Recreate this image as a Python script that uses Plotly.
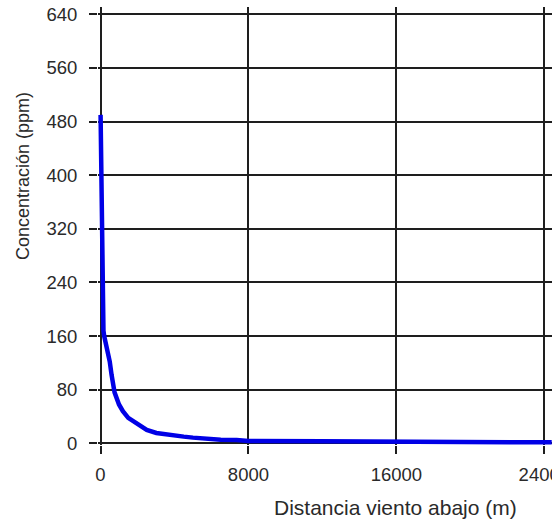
import plotly.graph_objects as go

# Data
distance_m = [5, 30, 50, 70, 90, 110, 130, 160, 200, 300, 400, 500, 600, 760, 1000,
              1210, 1500, 1930, 2500, 3020, 3760, 4500, 5000, 5740, 6500, 7360, 8000,
              12000, 16000, 20000, 24400]
concentration_ppm = [490, 430, 365, 300, 245, 205, 180, 168, 160, 148, 135, 122, 102, 76, 58,
                     48, 38, 30, 20, 15.5, 12, 10, 8.5, 6.5, 5.5, 5, 3.5,
                     3, 2.5, 2, 1.5]
x_ticks = [0, 8000, 16000, 24000]
y_ticks = [0, 80, 160, 240, 320, 400, 480, 560, 640]
x_title = "Distancia viento abajo (m)"
y_title = "Concentración (ppm)"

FONT = "Liberation Sans, Arial, sans-serif"
TXT = "#2a2a2a"
GRID = "#1e1e1e"

fig = go.Figure()
fig.add_trace(go.Scatter(
    x=distance_m, y=concentration_ppm, mode="lines",
    line=dict(color="#0000e6", width=4.5),
    showlegend=False, hoverinfo="skip",
))

fig.update_layout(
    width=552, height=523,
    margin=dict(l=98, r=0, t=7, b=78),
    paper_bgcolor="white", plot_bgcolor="white",
    font=dict(family=FONT, color=TXT, size=18.5),
    xaxis=dict(
        range=[-135, 24416], tickmode="array", tickvals=x_ticks,
        ticktext=[str(v) for v in x_ticks],
        showgrid=True, gridcolor=GRID, gridwidth=2,
        zeroline=False, showline=False,
        ticks="outside", ticklen=8, tickwidth=2, tickcolor=GRID,
        tickfont=dict(size=18.5, family=FONT, color=TXT),
        ticklabelstandoff=5, ticklabeloverflow="allow", automargin=False,
    ),
    yaxis=dict(
        range=[-2.5, 650.9], tickmode="array", tickvals=y_ticks,
        ticktext=[str(v) for v in y_ticks],
        showgrid=True, gridcolor=GRID, gridwidth=2,
        zeroline=True, zerolinecolor=GRID, zerolinewidth=2,
        showline=False,
        ticks="outside", ticklen=8, tickwidth=2, tickcolor=GRID,
        tickfont=dict(size=18.5, family=FONT, color=TXT),
        ticklabelstandoff=8, ticklabeloverflow="allow", automargin=False,
    ),
    annotations=[
        dict(text=x_title, xref="paper", yref="paper", x=(395 - 98) / 454,
             y=-(507 - 445) / 438, xanchor="center", yanchor="middle",
             showarrow=False, font=dict(size=21, family=FONT, color=TXT)),
        dict(text=y_title, xref="paper", yref="paper", x=-(98 - 23) / 454,
             y=(445 - 176) / 438, xanchor="center", yanchor="middle",
             textangle=-90, showarrow=False,
             font=dict(size=18, family=FONT, color=TXT)),
    ],
)

fig.write_html("out.html")
